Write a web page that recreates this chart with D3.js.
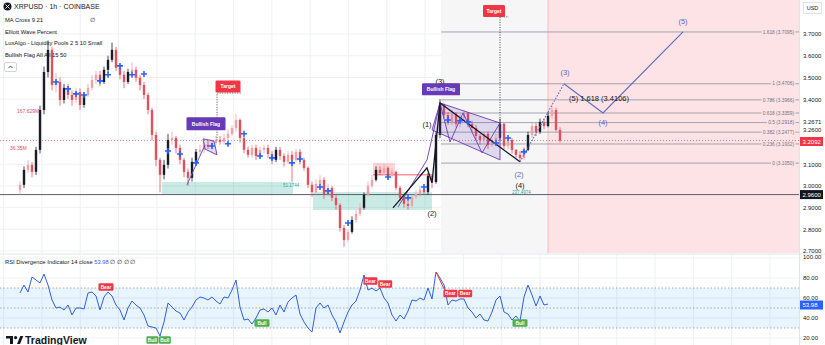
<!DOCTYPE html>
<html><head><meta charset="utf-8">
<script src="https://cdn.jsdelivr.net/npm/d3@7/dist/d3.min.js"></script>
<style>
html,body{margin:0;padding:0;background:#fff;overflow:hidden;}
svg{display:block;font-family:"Liberation Sans",Arial,sans-serif;}
</style></head><body>
<svg id="c" width="825" height="345"></svg>
<script>
// ---------- DATA ----------
const firstOpen = 2.98;
const closes = [3.005,3.074,3.097,3.065,3.166,3.350,3.525,3.627,3.465,3.479,
3.396,3.452,3.419,3.396,3.433,3.373,3.419,3.452,3.488,3.512,
3.479,3.535,3.581,3.627,3.544,3.512,3.479,3.525,3.535,3.498,
3.465,3.419,3.350,3.235,3.120,3.051,3.097,3.212,3.221,3.175,
3.120,3.065,3.037,3.111,3.157,3.166,3.189,3.180,3.198,3.212,
3.203,3.221,3.240,3.267,3.304,3.221,3.166,3.143,3.175,3.138,
3.166,3.175,3.147,3.120,3.166,3.138,3.111,3.143,3.120,3.157,
3.120,3.083,3.005,2.972,3.009,3.028,2.963,2.991,2.945,2.912,
2.806,2.751,2.788,2.843,2.871,2.899,2.959,3.000,3.028,3.074,
3.060,3.083,3.046,3.065,2.991,2.945,2.917,2.908,2.949,2.963,
2.982,2.972,3.046,3.018,3.235,3.373,3.327,3.295,3.332,3.286,
3.313,3.336,3.286,3.267,3.230,3.212,3.240,3.189,3.207,3.221,
3.286,3.184,3.212,3.166,3.143,3.129,3.166,3.235,3.276,3.249,
3.295,3.276,3.323,3.350,3.258,3.209];
const highs = [3.02,3.09,3.12,3.11,3.18,3.37,3.55,3.67,3.64,3.52,
3.50,3.47,3.47,3.44,3.45,3.45,3.43,3.47,3.51,3.53,
3.53,3.55,3.60,3.66,3.64,3.56,3.53,3.54,3.57,3.55,
3.51,3.48,3.43,3.36,3.25,3.13,3.12,3.24,3.25,3.23,
3.19,3.13,3.08,3.13,3.17,3.19,3.20,3.21,3.21,3.23,
3.23,3.24,3.26,3.28,3.33,3.31,3.23,3.18,3.19,3.19,
3.18,3.19,3.19,3.16,3.18,3.18,3.15,3.16,3.16,3.17,
3.17,3.13,3.09,3.02,3.03,3.05,3.04,3.01,3.00,2.96,
2.92,2.82,2.80,2.86,2.89,2.92,2.97,3.02,3.05,3.09,
3.09,3.10,3.09,3.08,3.07,3.00,2.96,2.93,2.96,2.98,
3.00,2.99,3.06,3.05,3.25,3.40,3.38,3.34,3.35,3.34,
3.33,3.35,3.34,3.30,3.28,3.24,3.25,3.25,3.22,3.24,
3.31,3.29,3.23,3.22,3.17,3.16,3.18,3.25,3.29,3.29,
3.31,3.31,3.34,3.37,3.36,3.27];
const lows = [2.96,2.99,3.06,3.04,3.05,3.15,3.33,3.50,3.44,3.43,
3.37,3.38,3.40,3.37,3.38,3.35,3.36,3.41,3.44,3.47,
3.46,3.47,3.52,3.57,3.53,3.49,3.45,3.47,3.51,3.48,
3.44,3.40,3.33,3.21,3.09,2.97,3.03,3.08,3.19,3.15,
3.10,3.04,3.00,3.02,3.10,3.14,3.15,3.17,3.17,3.19,
3.19,3.19,3.21,3.23,3.25,3.20,3.15,3.13,3.13,3.12,
3.13,3.15,3.13,3.10,3.11,3.12,3.09,3.10,3.02,3.11,
3.10,3.07,2.99,2.95,2.96,3.00,2.94,2.95,2.93,2.89,
2.79,2.72,2.74,2.78,2.83,2.86,2.89,2.95,2.99,3.02,
3.05,3.05,3.03,3.04,2.98,2.93,2.90,2.89,2.90,2.94,
2.95,2.96,2.96,2.99,3.01,3.22,3.31,3.28,3.28,3.27,
3.27,3.30,3.27,3.25,3.21,3.19,3.20,3.17,3.18,3.20,
3.21,3.17,3.17,3.15,3.13,3.11,3.12,3.16,3.22,3.23,
3.24,3.26,3.27,3.31,3.25,3.20];
const rsi = [65,73,66,81,78,75,84,73,58,50,
51,48,53,43,50,50,49,65,66,62,
48,61,66,62,53,48,38,50,57,53,
50,43,32,31,30,22,36,55,51,47,
45,38,46,51,58,61,60,58,61,57,
54,61,60,68,78,51,38,39,34,40,
48,49,46,50,43,53,46,56,60,63,
44,36,30,26,50,55,50,53,43,36,
25,36,46,53,57,68,83,68,70,67,
70,60,55,43,37,43,39,47,58,57,
60,58,70,59,86,80,73,53,58,57,
59,59,50,46,40,44,38,37,46,58,
62,46,44,38,42,37,61,73,63,52,
62,53,53.98];
const priceTicks = [3.7,3.6,3.5,3.4,3.1,3.0,2.9,2.8,2.7];
const extraPriceLabels = [3.2671,3.2600];
const rsiTicks = [100,80,60,40,20];
const fibRatios = ["1.618","1","0.786","0.618","0.5","0.382","0.236","0"];
const fibPrices = [3.7095,3.4706,3.3966,3.3359,3.2918,3.2477,3.1932,3.1050];
const crossIdx = [9,12,14,16,20,22,25,28,31,37,40,44,48,52,56,60,63,68,70,75,77,82,92,97,101,107,110,112,119,122,126];
const crossPrice = [3.479,3.447,3.424,3.419,3.484,3.512,3.553,3.512,3.516,3.161,3.147,3.106,3.184,3.194,3.240,3.138,3.129,3.106,3.124,2.995,2.977,2.829,3.041,2.945,2.995,3.304,3.300,3.295,3.198,3.221,3.157];
const waveBlackIdx = [93.25,101.75,103,105,125];
const waveBlackPrice = [2.899,3.083,3.014,3.382,3.111];
const waveBlackLabels = ["(1)","(2)","(3)","(4)"];
const waveBlueIdx = [125,136,145.75,165.75];
const waveBluePrice = [3.111,3.4706,3.3359,3.7095];
const waveBlueLabels = ["(2)","(3)","(4)","(5)"];
const lastPrice = 3.2092, keyLevel = 2.96, lastRsi = 53.98;
const liqLabels = ["167.629M","36.35M"];
const liqPrices = [3.345,3.175];

// ---------- SCALES ----------
const svg = d3.select("#c");
const x = d3.scaleLinear().domain([0,194.5]).range([20,798]);
const y = d3.scaleLinear().domain([2.7,3.7]).range([251,34]);
const yr = d3.scaleLinear().domain([20,100]).range([338,258]);
const PW = 799, PB = 253;

const defs = svg.append("defs");
defs.append("clipPath").attr("id","cp").append("rect").attr("x",0).attr("y",0).attr("width",PW).attr("height",PB);
defs.append("clipPath").attr("id","cr").append("rect").attr("x",0).attr("y",255).attr("width",PW).attr("height",90);

const gP = svg.append("g").attr("clip-path","url(#cp)");
const gR = svg.append("g").attr("clip-path","url(#cr)");

// grid
const gridIdx = d3.range(-4.1, 195, 9.58);
gP.selectAll(".vg").data(gridIdx).join("line").attr("x1",d=>x(d)).attr("x2",d=>x(d)).attr("y1",0).attr("y2",PB).attr("stroke","#eef0f4");
gR.selectAll(".vg").data(gridIdx).join("line").attr("x1",d=>x(d)).attr("x2",d=>x(d)).attr("y1",255).attr("y2",345).attr("stroke","#eef0f4");
gP.selectAll(".hg").data(priceTicks).join("line").attr("x1",0).attr("x2",PW).attr("y1",d=>y(d)).attr("y2",d=>y(d)).attr("stroke","#eef0f4");
gR.selectAll(".hg").data(rsiTicks).join("line").attr("x1",0).attr("x2",PW).attr("y1",d=>yr(d)).attr("y2",d=>yr(d)).attr("stroke","#eef0f4");

// forecast regions
gP.append("rect").attr("x",x(105.25)).attr("y",0).attr("width",x(132)-x(105.25)).attr("height",PB).attr("fill","#f6f6f7");
gP.append("rect").attr("x",x(132)).attr("y",0).attr("width",PW-x(132)).attr("height",PB).attr("fill","#fde3e6");
gP.append("line").attr("x1",x(132)).attr("x2",x(132)).attr("y1",0).attr("y2",PB).attr("stroke","#f6bcc2");

// liquidity zones
gP.append("rect").attr("x",x(35.5)).attr("y",y(3.018)).attr("width",x(68.25)-x(35.5)).attr("height",y(2.959)-y(3.018)).attr("fill","rgba(34,171,148,0.24)");
gP.append("rect").attr("x",x(73.25)).attr("y",y(2.972)).attr("width",x(103)-x(73.25)).attr("height",y(2.889)-y(2.972)).attr("fill","rgba(34,171,148,0.24)");
gP.append("rect").attr("x",x(88.25)).attr("y",y(3.106)).attr("width",x(93.75)-x(88.25)).attr("height",y(3.051)-y(3.106)).attr("fill","rgba(242,54,69,0.2)");
gP.append("line").attr("x1",x(88.25)).attr("x2",x(103)).attr("y1",y(3.051)).attr("y2",y(3.051)).attr("stroke","#f23645").attr("stroke-width",0.8);

// key level
gP.append("line").attr("x1",0).attr("x2",PW).attr("y1",y(keyLevel)).attr("y2",y(keyLevel)).attr("stroke","#5d606b").attr("stroke-width",1);

// fib lines
const gF = gP.append("g");
fibPrices.forEach((p,k)=>{
  gF.append("line").attr("x1",x(105.25)).attr("x2",PW).attr("y1",y(p)).attr("y2",y(p)).attr("stroke","#9a9ca6").attr("stroke-width",0.9);
  gF.append("text").attr("x",794).attr("y",y(p)).attr("dy","0.35em").attr("text-anchor","end")
    .attr("font-size",4.8).attr("fill","#6f727c").attr("stroke","#fde3e6").attr("stroke-width",3).attr("paint-order","stroke")
    .text(fibRatios[k]+" ("+p.toFixed(4)+")");
});

// current price dotted line
gP.append("line").attr("x1",0).attr("x2",PW).attr("y1",y(lastPrice)).attr("y2",y(lastPrice)).attr("stroke","#f23645").attr("stroke-dasharray","1,2").attr("stroke-width",0.8).attr("opacity",0.8);

// candles
const candles = closes.map((c,i)=>({i,o:i===0?firstOpen:closes[i-1],c,h:highs[i],l:lows[i]}));
const colorOf = d => d.c < d.o ? "#e0515e" : (d.c - d.o >= 0.045 ? "#1b1d24" : "#f0a0a8");
const gC = gP.append("g");
gC.selectAll(".w").data(candles).join("line").attr("x1",d=>x(d.i)).attr("x2",d=>x(d.i))
  .attr("y1",d=>y(Math.max(d.h,d.o,d.c))).attr("y2",d=>y(Math.min(d.l,d.o,d.c))).attr("stroke",colorOf).attr("stroke-width",0.8);
gC.selectAll(".b").data(candles).join("rect").attr("x",d=>x(d.i)-1.2).attr("width",2.4)
  .attr("y",d=>y(Math.max(d.o,d.c))).attr("height",d=>Math.max(0.8,Math.abs(y(d.o)-y(d.c)))).attr("fill",colorOf);

// flags
const line = d3.line().x(d=>x(d[0])).y(d=>y(d[1]));
gP.append("path").attr("d",line([[41.75,3.005],[46.25,3.189]])).attr("stroke","#5b5ec7").attr("stroke-width",1).attr("fill","none");
gP.append("path").attr("d",line([[45.75,3.217],[48.5,3.207],[49.25,3.143],[46.25,3.17]])+"Z").attr("fill","rgba(103,58,183,0.18)").attr("stroke","#673ab7").attr("stroke-width",0.9);
gP.append("path").attr("d",line([[105,3.382],[120,3.290],[120,3.120],[103,3.258]])+"Z").attr("fill","rgba(103,58,183,0.16)").attr("stroke","#673ab7").attr("stroke-width",0.9);
gP.append("path").attr("d",line([[94.5,2.903],[101.75,3.12],[105,3.382]])).attr("stroke","#673ab7").attr("stroke-width",0.9).attr("fill","none");
gP.append("path").attr("d",line([[105,3.382],[107.5,3.202],[110.75,3.336],[115.5,3.152],[120,3.290]])).attr("stroke","#673ab7").attr("stroke-width",0.9).attr("fill","none");

// elliott waves
const bw = waveBlackIdx.map((d,k)=>[d,waveBlackPrice[k]]);
gP.append("path").attr("d",line(bw)).attr("stroke","#131722").attr("stroke-width",1.3).attr("fill","none");
const bl = waveBlueIdx.map((d,k)=>[d,waveBluePrice[k]]);
gP.append("path").attr("d",line(bl.slice(0,2))).attr("stroke","#5b6bb8").attr("stroke-width",1.1).attr("stroke-dasharray","1.5,1.5").attr("fill","none");
gP.append("path").attr("d",line(bl.slice(1))).attr("stroke","#5b6bb8").attr("stroke-width",1.1).attr("fill","none");

// crosses
const gX = gP.append("g");
crossIdx.forEach((ci,k)=>{
  const cx=x(ci), cy=y(crossPrice[k]);
  gX.append("path").attr("d",`M${cx-3},${cy}H${cx+3}M${cx},${cy-3}V${cy+3}`).attr("stroke","#2962ff").attr("stroke-width",1.6);
});

// wave labels
const lab = (px,py,t,col,fs)=>svg.append("text").attr("x",px).attr("y",py).attr("text-anchor","middle").attr("font-size",fs).attr("fill",col).text(t);
const blackLabelPos = [[101.75,3.27],[103,2.86],[105,3.47],[125,2.99]];
blackLabelPos.forEach((p,k)=>lab(x(p[0]),y(p[1]),waveBlackLabels[k],"#131722",7.5));
const blueLabelPos = [[124.75,3.04],[136.25,3.51],[145.75,3.28],[165.75,3.745]];
blueLabelPos.forEach((p,k)=>lab(x(p[0]),y(p[1]),waveBlueLabels[k],"#5b6bb8",7.5));
svg.append("text").attr("x",x(137.25)).attr("y",y(3.392)).attr("font-size",7.5).attr("fill","#131722").text("(5) 1.618 (3.4106)");

// tags
function tag(cx,cy,w,h,t,fill,fs){
  svg.append("rect").attr("x",cx-w/2).attr("y",cy-h/2).attr("width",w).attr("height",h).attr("rx",1.2).attr("fill",fill);
  svg.append("text").attr("x",cx).attr("y",cy).attr("dy","0.36em").attr("text-anchor","middle").attr("font-size",fs).attr("font-weight","bold").attr("fill","#fff").text(t);
}
// target dotted lines
const dot = (pts)=>svg.append("path").attr("d",line(pts)).attr("stroke","#131722").attr("stroke-dasharray","1,1.5").attr("stroke-width",0.8).attr("fill","none");
dot([[49.25,3.21],[49.25,3.428],[55.5,3.428]]);
dot([[120,3.29],[120,3.779],[122.25,3.779]]);
tag(x(52),y(3.458),25,12,"Target","#f23645",5);
tag(x(118.5),y(3.806),22,12,"Target","#f23645",5);
tag(x(46.5),y(3.286),39,13,"Bullish Flag","#673ab7",5);
tag(x(105.25),y(3.445),38,12,"Bullish Flag","#673ab7",5);

// small zone labels
svg.append("text").attr("x",x(65.75)).attr("y",y(2.995)).attr("font-size",4.5).attr("fill","#22ab94").text("51.1744");
svg.append("text").attr("x",x(123)).attr("y",y(2.962)).attr("font-size",4.5).attr("fill","#22ab94").text("237.4974");
liqLabels.forEach((t,k)=>svg.append("text").attr("x",k===0?17:10).attr("y",y(liqPrices[k])).attr("dy","0.35em").attr("font-size",5).attr("fill","#e0515e").text(t));

// ---------- RSI PANE ----------
svg.append("line").attr("x1",0).attr("x2",825).attr("y1",254).attr("y2",254).attr("stroke","#e0e3eb");
gR.append("rect").attr("x",0).attr("y",yr(70)).attr("width",PW).attr("height",yr(30)-yr(70)).attr("fill","rgba(33,150,243,0.1)");
[70,50,30].forEach(v=>gR.append("line").attr("x1",0).attr("x2",PW).attr("y1",yr(v)).attr("y2",yr(v)).attr("stroke","#8a8d96").attr("stroke-dasharray","1.5,2").attr("stroke-width",0.7));
gR.append("path").datum(rsi).attr("d",d3.line().x((d,i)=>x(i)).y(d=>yr(d))).attr("fill","none").attr("stroke","#2f5fe0").attr("stroke-width",1);
gR.append("line").attr("x1",x(104)).attr("x2",x(106.75)).attr("y1",yr(86)).attr("y2",yr(63)).attr("stroke","#f23645").attr("stroke-width",1);
const divTags = [[21.5,71,"Bear","#f23645",15],[33.1,18,"Bull","#4caf50",12],[36.2,18,"Bull","#4caf50",12],[60.5,35,"Bull","#4caf50",15],
  [87.6,77,"Bear","#f23645",14],[91.3,74,"Bear","#f23645",14],[107.6,64.5,"Bear","#f23645",14],[111.3,64.5,"Bear","#f23645",14],[125,35,"Bull","#4caf50",15]];
divTags.forEach(d=>tag(x(d[0]),yr(d[1]),d[4],7.5,d[2],d[3],4.8));

const rt = svg.append("text").attr("x",5).attr("y",264).attr("font-size",5.8).attr("fill","#131722");
rt.append("tspan").text("RSI Divergence Indicator  14  close  ");
rt.append("tspan").attr("fill","#2962ff").text(lastRsi.toFixed(2));
rt.append("tspan").text("  \u2205  \u2205  \u2205  \u2205");

// ---------- AXES ----------
svg.append("line").attr("x1",799.5).attr("x2",799.5).attr("y1",0).attr("y2",345).attr("stroke","#e0e3eb");
const ax = svg.append("g").attr("transform","translate(801,0)").call(d3.axisRight(y).tickValues(priceTicks).tickFormat(d3.format(".4f")).tickSize(0).tickPadding(2));
ax.select(".domain").remove();
ax.selectAll("text").attr("font-size",6).attr("fill","#131722").attr("font-family","Liberation Sans, Arial, sans-serif");
svg.append("text").attr("x",803).attr("y",y(extraPriceLabels[0])-6).attr("dy","0.35em").attr("font-size",6).attr("fill","#131722").text(extraPriceLabels[0].toFixed(4));
svg.append("text").attr("x",803).attr("y",y(extraPriceLabels[1])).attr("dy","0.35em").attr("font-size",6).attr("fill","#131722").text(extraPriceLabels[1].toFixed(4));
const axr = svg.append("g").attr("transform","translate(801,0)").call(d3.axisRight(yr).tickValues(rsiTicks).tickFormat(d3.format(".2f")).tickSize(0).tickPadding(2));
axr.select(".domain").remove();
axr.selectAll("text").attr("font-size",6).attr("fill","#131722").attr("font-family","Liberation Sans, Arial, sans-serif");
axr.selectAll(".tick").filter(d=>d===100).attr("transform","translate(0,"+(yr(100)-1)+")");
function axTag(py,t,fill){
  svg.append("rect").attr("x",800).attr("y",py-4.5).attr("width",23).attr("height",9).attr("fill",fill);
  svg.append("text").attr("x",802.5).attr("y",py).attr("dy","0.35em").attr("font-size",6).attr("fill","#fff").text(t);
}
axTag(y(lastPrice)+1,lastPrice.toFixed(4),"#f23645");
axTag(y(keyLevel),keyLevel.toFixed(4),"#131722");
axTag(yr(lastRsi)+1,lastRsi.toFixed(2),"#2962ff");
svg.append("rect").attr("x",803.5).attr("y",2.5).attr("width",18).attr("height",11).attr("fill","#fff").attr("stroke","#e0e3eb");
svg.append("text").attr("x",812.5).attr("y",8).attr("dy","0.35em").attr("text-anchor","middle").attr("font-size",5.5).attr("fill","#131722").text("USD");

// ---------- LEGEND ----------
const lg = svg.append("g");
lg.append("circle").attr("cx",7.5).attr("cy",6.5).attr("r",4).attr("fill","#131722");
lg.append("path").attr("d","M5.5,4.5L9.5,8.5M9.5,4.5L5.5,8.5").attr("stroke","#fff").attr("stroke-width",0.9);
lg.append("text").attr("x",14).attr("y",9).attr("font-size",7).attr("fill","#131722").text("XRPUSD \u00b7 1h \u00b7 COINBASE");
[["MA Cross 9 21",21.5],["Elliott Wave Percent",33.5],["LuxAlgo - Liquidity Pools 2 5 10 Small",45],["Bullish Flag All All 15 50",57]].forEach(d=>
  lg.append("text").attr("x",5).attr("y",d[1]).attr("font-size",5.8).attr("fill","#131722").text(d[0]));
lg.append("text").attr("x",90).attr("y",21.5).attr("font-size",5.8).attr("fill","#131722").text("\u2205");
lg.append("rect").attr("x",4.5).attr("y",62.5).attr("width",12).attr("height",9).attr("rx",1.5).attr("fill","#fff").attr("stroke","#d1d4dc");
lg.append("path").attr("d","M8.5,68L10.5,66L12.5,68").attr("stroke","#131722").attr("fill","none").attr("stroke-width",0.8);

// TradingView logo
const tv = svg.append("g").attr("fill","#131722");
tv.append("path").attr("d","M6,336H13V344H10V338.6H6Z");
tv.append("circle").attr("cx",15.6).attr("cy",337.6).attr("r",1.6);
tv.append("path").attr("d","M17,344L20.3,336H23.3L20,344Z");
tv.append("text").attr("x",25).attr("y",344).attr("font-size",10.5).attr("font-weight","bold").attr("fill","#131722").text("TradingView");
</script>
</body></html>
